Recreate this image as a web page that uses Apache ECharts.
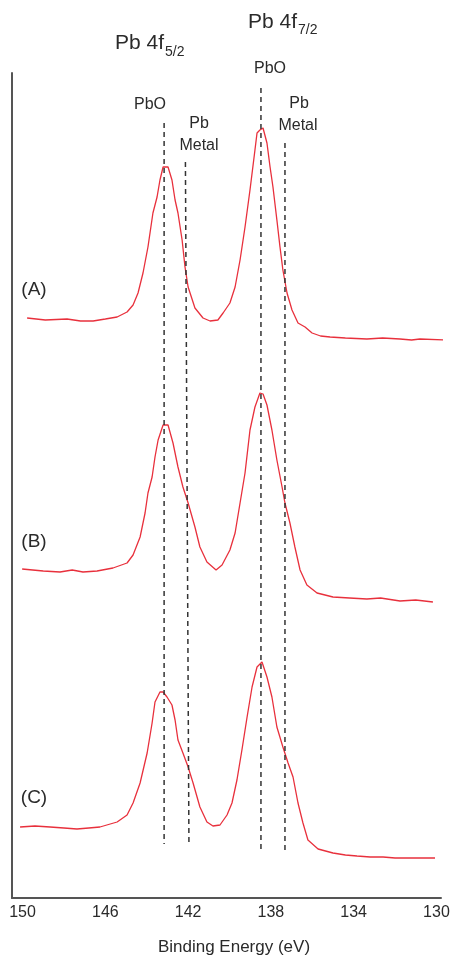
<!DOCTYPE html>
<html><head><meta charset="utf-8">
<script src="https://cdn.jsdelivr.net/npm/echarts@6/dist/echarts.min.js"></script>
<style>html,body{margin:0;padding:0;background:#fff}#c{width:453px;height:960px}</style>
</head><body><div id="c"></div>
<script>
// Binding energy (eV) and intensity (a.u.)
const tickValues = [150, 146, 142, 138, 134, 130];
const energyA = [149.78,148.90,147.85,147.20,146.59,146.00,145.43,144.95,144.66,144.42,144.18,143.94,143.70,143.50,143.36,143.21,142.97,142.78,142.63,142.49,142.29,142.15,142.00,141.67,141.28,140.94,140.56,140.31,139.98,139.73,139.49,139.25,139.01,138.77,138.67,138.53,138.38,138.19,138.04,137.90,137.71,137.56,137.42,137.22,136.98,136.69,136.35,136.01,135.60,135.14,134.40,133.36,132.60,131.76,131.20,130.80,129.49];
const intensityA = [580,578,579,577,577,579,581,586,593,605,625,651,685,701,718,731,731,718,698,685,658,631,611,590,580,577,578,585,595,611,638,671,708,748,765,768,770,755,731,711,678,651,628,605,588,575,571,565,562,561,560,559,560,559,558,559,558];
const energyB = [150.02,149.00,148.19,147.60,147.08,146.40,145.63,144.95,144.66,144.32,144.08,143.94,143.74,143.60,143.45,143.21,142.97,142.73,142.49,142.25,142.00,141.67,141.43,141.09,140.65,140.36,139.98,139.73,139.49,139.25,139.01,138.77,138.53,138.38,138.19,137.95,137.71,137.46,137.32,137.08,136.84,136.59,136.26,135.77,135.00,134.20,133.36,132.70,131.76,131.00,130.17];
const intensityB = [329,327,326,328,326,327,330,335,343,361,385,405,421,441,458,473,473,455,431,411,395,371,351,336,328,333,348,365,395,425,468,491,505,504,493,468,438,411,395,375,351,328,313,305,301,300,299,300,297,298,296];
const energyC = [150.12,149.40,148.67,148.00,147.37,146.80,146.26,145.43,144.95,144.66,144.32,143.98,143.74,143.60,143.36,143.21,143.02,142.78,142.63,142.49,142.25,142.00,141.76,141.43,141.09,140.80,140.46,140.12,139.88,139.64,139.40,139.15,138.91,138.67,138.43,138.19,137.95,137.71,137.42,137.17,136.93,136.69,136.45,136.21,135.72,135.00,134.40,133.84,133.20,132.58,132.00,131.42,130.07];
const intensityC = [71,72,71,70,69,70,71,76,83,95,115,145,175,196,206,206,201,193,178,158,145,131,115,91,76,72,73,83,95,118,148,181,211,231,236,221,201,171,151,135,121,95,75,58,49,45,43,42,41,41,40,40,40];
// dashed reference lines: [energy, intensity] at top and bottom
const refPbO52 = [[143.16, 775], [143.16, 54]];
const refMetal52 = [[142.13, 736], [141.96, 55]];
const refPbO72 = [[138.48, 810], [138.48, 48]];
const refMetal72 = [[137.32, 755], [137.32, 46]];

const zip = (a, b) => a.map((v, i) => [v, b[i]]);
const FONT = "'Liberation Sans', Arial, sans-serif";
const red = '#e8303c';
const spec = (name, e, v) => ({name, type:'line', data: zip(e, v), symbol:'none', clip:false, silent:true,
  lineStyle:{color:red, width:1.3}, z:2});
const ref = (name, d) => ({name, type:'line', data: d, symbol:'none', clip:false, silent:true,
  lineStyle:{color:'#333', width:1.5, type:[5,4]}, z:3});
const txt = (text, x, y, size, align) => ({type:'text', x, y, style:{text, fill:'#2a2a2a', font: size + 'px ' + FONT, align: align || 'center', verticalAlign:'middle'}});

const chart = echarts.init(document.getElementById('c'), null, {renderer:'canvas'});
chart.setOption({
  animation:false,
  grid:{left:12, right:12, top:73, bottom:62},
  xAxis:{type:'value', min:129.78, max:150.51, inverse:true,
    axisLine:{show:true, lineStyle:{color:'#555', width:2}},
    axisTick:{show:false}, splitLine:{show:false},
    axisLabel:{customValues: tickValues, fontSize:16, color:'#2a2a2a', fontFamily:FONT, margin:7}},
  yAxis:{type:'value', min:0, max:825,
    axisLine:{show:true, lineStyle:{color:'#555', width:2}},
    axisTick:{show:false}, splitLine:{show:false}, axisLabel:{show:false}},
  series:[
    spec('A', energyA, intensityA), spec('B', energyB, intensityB), spec('C', energyC, intensityC),
    ref('PbO 4f5/2', refPbO52), ref('Pb metal 4f5/2', refMetal52), ref('PbO 4f7/2', refPbO72), ref('Pb metal 4f7/2', refMetal72)
  ],
  graphic:[
    txt('Pb 4f', 115, 43, 21, 'left'), txt('5/2', 165, 52, 14, 'left'),
    txt('Pb 4f', 248, 22, 21, 'left'), txt('7/2', 298, 30, 14, 'left'),
    txt('PbO', 150, 105, 16), txt('Pb', 199, 124, 16), txt('Metal', 199, 146, 16),
    txt('PbO', 270, 69, 16), txt('Pb', 299, 104, 16), txt('Metal', 298, 126, 16),
    txt('(A)', 34, 290, 19), txt('(B)', 34, 542, 19), txt('(C)', 34, 798, 19),
    txt('Binding Energy (eV)', 234, 947, 17)
  ]
});
</script></body></html>
